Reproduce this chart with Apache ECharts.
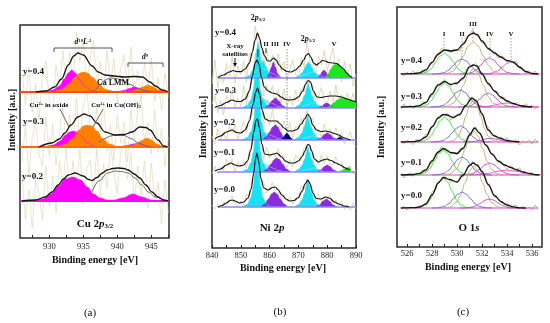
<!DOCTYPE html>
<html><head><meta charset="utf-8">
<style>html,body{margin:0;padding:0;background:#fff}#c{width:550px;height:323px}</style>
<script src="https://cdn.jsdelivr.net/npm/echarts@6/dist/echarts.min.js"></script>
</head><body><div id="c"></div>
<script>
// ---------------- DATA: panel (a) Cu 2p3/2 ----------------
const xsCu = [926,926.5,927,927.5,928,928.5,929,929.5,930,930.5,931,931.5,932,932.5,933,933.5,934,934.5,935,935.5,936,936.5,937,937.5,938,938.5,939,939.5,940,940.5,941,941.5,942,942.5,943,943.5,944,944.5,945,945.5,946,946.5,947,947.5];
const cuRaw04 = [18,-12,25,-20,8,-28,16,31,-8,-18,27,5,42,4,39,10,60,30,52,3,33,52,6,31,-3,42,6,34,-12,23,37,3,45,-3,21,-7,29,4,34,-9,14,-18,19,-5];
const cuRaw03 = [-15,22,-28,10,25,-8,-19,30,-9,23,-18,13,42,1,32,3,49,4,41,58,21,8,39,15,45,-4,23,-13,32,4,25,-15,37,7,37,50,5,24,-7,37,-5,18,-19,10];
const cuRaw02 = [25,-18,11,-27,21,7,-19,35,-5,25,-12,40,14,53,7,40,13,52,-3,33,41,9,52,5,37,13,57,28,8,48,63,22,48,-1,35,6,40,-7,38,-2,19,-23,21,-12];

const cuMagA04 = [[929.4,0],[930.5,2],[931.5,6],[932.2,13],[932.8,19],[933.3,22],[933.8,19],[934.5,12],[935.3,5],[936.2,1.5],[937.2,0]];
const cuOraA04 = [[930.5,0],[931.8,2.5],[932.9,8],[933.8,15],[934.5,19],[935,20],[935.6,19],[936.4,14.5],[937.3,7.5],[938.3,2.5],[939.5,0]];
const cuLmm04  = [[936.8,2],[937.4,7],[938.2,12],[939,14],[939.8,13.5],[940.8,11.5],[941.9,7.5],[942.9,4],[944,1.5],[945,0]];
const cuMagB04 = [[940,0],[941,1.5],[941.8,3.5],[942.5,5],[943.2,3.5],[944,1.5],[945,0]];
const cuOraB04 = [[941.8,0],[942.8,2],[943.7,5],[944.5,7],[945.3,5],[946.1,2],[947,0]];
const cuEnv04  = [[928,0],[929.5,1],[930.8,5],[931.8,13],[932.8,27],[933.6,36],[934.2,39],[935,37],[936.3,26],[937.2,20],[938.2,17],[939.5,16],[941,15],[942.5,15.5],[943.7,15],[944.8,10],[945.6,6],[946.6,2],[947.4,0.5]];

const cuMagA03 = [[929.4,0],[930.6,2],[931.6,6],[932.4,12],[933,15],[933.5,16],[934,15],[934.7,11],[935.5,5],[936.4,1.5],[937.3,0]];
const cuOraA03 = [[931.3,0],[932.5,3],[933.5,9],[934.4,17],[935,21],[935.6,22],[936.2,21],[937,16],[937.9,8],[938.8,3],[940,0]];
const cuLmm03  = [[937.2,4],[938,8],[939,11],[940,12],[941,11.5],[942,8.5],[943,4.5],[944,1.5],[945,0]];
const cuMagB03 = [[940.5,0],[941.5,1.5],[942.3,3],[943,3.5],[943.7,2.5],[944.5,0.5],[945.2,0]];
const cuOraB03 = [[941.8,0],[942.8,3],[943.6,6.5],[944.3,9],[945,7],[945.8,3],[946.7,0]];
const cuEnv03  = [[928.5,0],[930.4,4],[931.5,8],[932.3,14],[933.2,22],[934.2,30],[935.1,33],[936,31],[937,24],[938.2,15],[939.7,12],[941,12.5],[942.2,15],[943.3,20],[944.2,19.5],[944.8,17],[946,7],[946.8,1],[947.4,0]];

const cuMag02  = [[927.5,0],[929,2],[930.2,7],[931.3,15],[932.4,22],[933.5,24],[934.6,21],[935.6,14],[936.5,7],[937.5,3],[938.5,1],[939.5,0.8],[940.8,3],[942.3,7],[943.6,4],[945,1],[946,0]];
const cuLine02 = [[936.2,8],[937.3,20],[938.6,28],[939.7,30],[940.6,29.5],[941.6,28],[942.6,23],[943.6,16],[944.6,9],[945.6,4],[947,0]];
const cuEnv02  = [[926,0],[928,1],[929.4,4],[930.4,9],[931.3,16],[932.1,22],[932.8,26],[933.8,28],[935,25],[935.8,21.5],[936.3,20.5],[937,23.5],[937.8,28],[938.5,31],[939.3,32.5],[940.1,33],[941,32.5],[941.6,31],[942.5,27],[943.3,23],[944.2,16],[945.1,9],[946,4],[946.8,1],[947.5,0]];

const cuTicks  = [927.5,930,932.5,935,937.5,940,942.5,945,947.5];
const cuLabels = [930,935,940,945];

// ---------------- DATA: panel (b) Ni 2p ----------------
const xsNi = [840,841,842,843,844,845,846,847,848,849,850,851,852,853,854,855,856,857,858,859,860,861,862,863,864,865,866,867,868,869,870,871,872,873,874,875,876,877,878,879,880,881,882,883,884,885,886,887,888,889,890];
const niRaw04 = [-6,18,-9.5,4.5,-5,14.5,2,21.5,-5,12,3.3,17,-4,25,22,52,35,36,15,28,12.5,23,13,24,7,16,-2.5,9,18,4,0,20,11,37.5,17,19,0.5,22,13,27.5,7,19,30,7,19,-3.5,17,2,14,-8.5,4];
const niRaw03 = [4,12.5,-5,7.5,-7,12.5,5,18,0,10,1.5,22,3,20,28,55,44,43,12,23,14.5,22,2.5,19,6,19.5,1,12,2,17.5,7,19,16,34,24,23,5,12,20.5,7,3.5,17,6,23,6.5,13,0,15,4,15,-1];
const niRaw02 = [4,-4,11.5,0,8,0,14.5,7,15,1,10,19,7,24,25,54,49,41,16,23,15,31,12,19,9,19,6.5,18,1,14,10,22,10,30.5,19,22,4,11,3.5,16,6,11,3,12,3,8,-4,3,8,-3,-7];
const niRaw01 = [-2,6,-2,5,1,13,5.5,13,0,10.3,5,10,4,22,30,55,45,31,13,25,14,19.5,14.5,23.5,14,16,4,12,5,17,13.5,11,24,25,29,10,12,7,17,8.5,16,7,8,15,6.5,10,0.5,4,6,-2,2];
const niRaw00 = [2,-2,3,0,5,1,7.5,11,4,0.5,6,2,13,12,29,44,53,31,24,14,19,24.5,16.5,19,7.5,12,6,10,3,9,8,21,18,28,21,18,7,13,4.5,11.5,9,11.5,1,7,1,6,-2,2.5,-3,4,-2];

const niHalo04  = [[852,0],[854,4],[856,8],[857.5,10],[859,8],[861,4.5],[863,1.5],[865,0]];
const niHaloB04 = [[870,0],[872.5,3.5],[875,6],[877,4],[879,0]];
const niMain04  = [[851.5,0],[853,2.5],[854.2,8],[855,17],[855.5,28],[856,35],[856.5,28],[857,17],[857.8,8],[859,2.5],[860.5,0]];
const niMainII04= [[854.5,0],[855.8,4],[856.8,11],[857.8,17],[858.8,11],[859.8,4],[861,0]];
const niP12_04  = [[869,0],[870.4,2.5],[871.5,6],[872.4,11],[873,14],[873.5,16],[874,14],[874.6,11],[875.5,6],[876.6,2.5],[878,0]];
const niIII04   = [[859,0],[859.8,4],[860.5,10],[861.3,16],[862,11],[862.8,4],[863.8,0]];
const niSat04   = [[876.8,0],[877.6,3],[878.3,6.5],[878.8,8],[879.4,6.5],[880.2,3],[881.2,0]];
const niV04     = [[879.3,0],[880.3,4],[881.3,9],[882.3,13],[883.2,14],[884.2,12.5],[885.4,9.5],[886.6,6],[887.6,3],[888.4,0.5]];
const niEnv04   = [[842,0.5],[844,3],[846,6],[847.3,7.5],[848.5,6.5],[850,6.3],[851.5,9],[853,15],[854,26],[855,38],[855.8,45],[856.5,40],[857.3,30],[858.3,22],[859.3,17],[860.3,17],[861.3,20],[862.3,18],[863.3,13],[864.5,9],[866,6.5],[867.5,6],[869,8],[870.5,12],[871.8,18],[872.8,23],[873.5,24.5],[874.3,21],[875.3,15],[876.3,13],[877.3,15],[878.3,17.5],[879.3,17],[880.5,15.5],[882,15],[883.3,14.5],[884.5,12],[885.7,9],[886.8,5],[887.8,2],[888.6,0.5]];

const niHalo03  = [[852,0],[854,4],[856,8],[857.5,10],[859,8],[861,4.5],[863,1.5],[865,0]];
const niHaloB03 = [[871,0],[873,3],[875,5],[877,3],[879,0]];
const niMain03  = [[850.5,0],[852.2,2.5],[853.5,8],[854.4,18],[855,32],[855.6,46],[856.2,32],[856.8,18],[857.7,8],[859,2.5],[860.7,0]];
const niP12_03  = [[868.7,0],[870.1,2.5],[871.2,6.5],[872.2,13],[872.9,20],[873.4,25],[873.9,20],[874.6,13],[875.6,6.5],[876.7,2.5],[878,0]];
const niIII03   = [[858.3,0],[859.6,2.5],[860.8,7],[862,10],[863.2,7],[864.4,2.5],[865.7,0]];
const niSat03   = [[877,0],[878.2,2],[879.2,4.3],[879.8,5],[880.6,4],[881.6,1.5],[882.7,0]];
const niV03     = [[879.8,0],[881,2],[882.2,5],[883.5,8],[885,10],[886.5,9.5],[888,8],[889.2,7],[890,6]];
const niEnv03   = [[841,0.5],[843,2.5],[845,5.5],[847,8],[848.5,6.5],[850,6.5],[851.5,9],[853,17],[854,32],[855,45],[855.6,48],[856.3,44],[857.2,30],[858.2,21],[859.5,17],[861,15],[862.5,14],[864,11],[865.5,8.5],[867,8],[868.5,8.5],[870,11],[871.5,17],[872.5,24],[873.4,27.5],[874.2,26],[875.2,17],[876.5,11],[878,10.5],[879.5,11.5],[881,12],[883,12],[885,11],[887,9],[889,7],[890,6]];

const niHalo02  = [[852,0],[854,3],[856,7],[857.5,8.5],[859,7],[861,4],[863,1.5],[865,0]];
const niHaloB02 = [[871,0],[873,2.5],[875,4],[877,2.5],[879,0]];
const niMain02  = [[850.7,0],[852.3,2.5],[853.6,8.5],[854.5,19],[855.1,36],[855.8,50],[856.5,36],[857.1,19],[858,8.5],[859.3,2.5],[861,0]];
const niP12_02  = [[868.6,0],[870,2.5],[871.1,6.5],[872.1,13],[872.7,19],[873.2,24],[873.7,19],[874.4,13],[875.4,6.5],[876.5,2.5],[877.8,0]];
const niIII02   = [[857.5,0],[858.8,3],[860,8],[861.1,13],[862,15],[862.9,13],[863.8,8],[864.8,3],[866,0]];
const niIV02    = [[864,0],[864.8,2.5],[865.5,5.5],[866,7],[866.5,5.5],[867.2,2.5],[868,0]];
const niSat02   = [[876.5,0],[877.8,2],[879,5.5],[880,7],[881,5.5],[882.2,2],[883.5,0]];
const niV02     = [[882.8,0],[883.6,1.5],[884.4,3],[885.2,1.5],[886,0]];
const niEnv02   = [[841,1],[843,4],[845,8],[847,10],[848.5,7.5],[850,7],[851.5,10],[853,19],[854.2,35],[855.2,48],[855.8,52],[856.5,46],[857.4,30],[858.5,21],[860,19],[861.5,19],[862.5,19],[863.5,16.5],[865,12],[866.5,9],[868,9],[869.5,10.5],[871,16],[872.3,21.5],[873.2,26],[874,23],[875,15],[876.3,10],[877.8,8.5],[879.5,9],[881,8],[882.5,6.5],[884,5],[885.5,2.5],[887,1],[888,0]];

const niHalo01  = [[852,0],[854,3],[856,7.5],[857.5,9],[859,7.5],[861,4],[863,1.5],[865,0]];
const niHaloB01 = [[871,0],[873,2.5],[875,4],[877,2.5],[879,0]];
const niMain01  = [[850.5,0],[852.2,2.5],[853.5,9],[854.4,20],[855,37],[855.6,52],[856.2,37],[856.8,20],[857.7,9],[859,2.5],[860.7,0]];
const niP12_01  = [[868.7,0],[870.1,2.5],[871.2,6.5],[872.2,13],[872.8,20],[873.3,25],[873.8,20],[874.5,13],[875.5,6.5],[876.6,2.5],[877.9,0]];
const niIII01   = [[857.8,0],[859.2,3],[860.5,8],[861.6,12.5],[862.5,14],[863.4,12.5],[864.5,8],[865.8,3],[867.2,0]];
const niSat01   = [[876.5,0],[877.8,2],[879,5.5],[880,7],[881,5.5],[882.2,2],[883.5,0]];
const niV01     = [[884,0],[885.2,1.5],[886.3,3.5],[887.3,4.5],[888,4.2],[888.02,0]];
const niEnv01   = [[841,1],[843,3],[845,7],[846.5,9],[848,7],[849.5,6],[851,7],[852.3,11],[853.5,22],[854.5,40],[855.3,52],[855.8,53],[856.5,44],[857.3,28],[858.3,18],[860,17],[861.5,18],[862.5,19],[864,15.5],[865.5,11],[867,9],[868.5,9],[870,11],[871.3,15.5],[872.3,21],[873.2,27.5],[873.8,27],[874.6,21],[875.6,13],[877,10],[878.5,12],[879.8,13],[881.3,11.5],[883,9],[884.5,7],[886,4.5],[887,3],[888,2]];

const niMain00  = [[850.5,0],[852.2,2.5],[853.5,9],[854.4,21],[855,38],[855.6,54],[856.2,38],[856.8,21],[857.7,9],[859,2.5],[860.7,0]];
const niP12_00  = [[868.7,0],[870.1,2.5],[871.2,7],[872.2,14],[872.8,22],[873.3,27],[873.8,22],[874.5,14],[875.5,7],[876.6,2.5],[877.9,0]];
const niIII00   = [[857,0],[858.3,3],[859.6,8],[860.7,13],[861.6,15],[862.6,13],[863.7,8],[865,3],[866.3,0]];
const niSat00   = [[876,0],[877.3,2],[878.6,6],[879.7,8],[880.8,6],[882,2],[883.3,0]];
const niEnv00   = [[842,0],[843.5,1.5],[845,4],[846.3,6.5],[847,7],[848,6],[849.5,4],[851,5],[852.5,9],[853.6,18],[854.5,34],[855.1,48],[855.6,54],[856.2,46],[857,28],[858,19],[859.5,17],[861,19.5],[862,20],[863,17],[864.3,12],[865.7,8],[867,6],[868.5,6.5],[870,9.5],[871.3,16],[872.3,23],[873.3,27],[874.1,23],[875,14],[876.2,8.5],[877.8,8],[879.6,10],[881,8.5],[882.5,5],[884,3],[886,1],[887.5,0]];

const niTicks  = [840,845,850,855,860,865,870,875,880,885,890];
const niLabels = [840,850,860,870,880,890];

// ---------------- DATA: panel (c) O 1s ----------------
const xsO = [525.5,525.75,526,526.25,526.5,526.75,527,527.25,527.5,527.75,528,528.25,528.5,528.75,529,529.25,529.5,529.75,530,530.25,530.5,530.75,531,531.25,531.5,531.75,532,532.25,532.5,532.75,533,533.25,533.5,533.75,534,534.25,534.5,534.75,535,535.25,535.5,535.75,536,536.25,536.5];
const oRaw04 = [1,-2,2,-1,3.3,-1.4,1.2,4,1,8,10.5,18,18,26,23,25,21,25,24,23,32,34,40,44,38.5,38,31,31,24.5,23,23,16,18,17,11.5,14,11,13,5,5.5,0.5,3.2,-0.5,3,-2];
const oRaw03 = [-2,3,-1,2,-1.7,1.7,-0.7,5.2,3.5,9,11,20,23,22,27.5,24,21.5,24.5,22,27,27,38,41,41,43.5,35,33,30,21.5,20.5,15,15.5,8,10,5,5.5,0.5,4.5,1.5,-1,3.5,-0.8,2,-2,1];
const oRaw02 = [1,-2,2,0,-2.6,2.8,0.5,3.5,8,7.5,16,18,26,26,27.5,28.5,22,25.5,27.5,26,33,36.5,45,42,43,33,30,18,15,6.5,7,2.5,5.5,1.5,4.5,-1,0.7,2.3,-3,1,-1,2,-2,3,-1];
const oRaw01 = [2,-3,1,2.2,-1.5,1.9,0.6,5.6,3,10,12,21,22,29,24.5,26,20.5,23,20.5,26.5,25,33,42,43,48,42,39,29.5,29,20.5,19,12.5,14,10,5.5,9.5,5,6,7,1,3.2,-0.5,2.8,-0.7,0];
const oRaw00 = [-1,2,-2,1,0.3,-1.4,3,1,5,6,16,18,27,27,31.5,29.5,25.5,28,25,32,31,39,41.5,47,42,42,33.5,32,22.5,18.5,10.5,11,6.5,3.5,5,-1,2.2,2.6,-1,2,-2,1,-2,3,-1];

const oI04   = [[526.6,0],[527.1,0.3],[527.6,2],[527.95,5.5],[528.3,12],[528.65,18],[529,21],[529.35,18],[529.7,12],[530.05,5.5],[530.4,2],[530.9,0.3],[531.4,0]];
const oII04  = [[528,0],[528.5,0.2],[529,1.5],[529.35,4],[529.7,8.5],[530.05,13],[530.4,15],[530.75,13],[531.1,8.5],[531.45,4],[531.8,1.5],[532.3,0.2],[532.8,0]];
const oIII04 = [[528.6,0],[529.2,0.6],[529.7,3],[530.1,9],[530.5,18],[530.9,28],[531.3,32],[531.7,28],[532.1,18],[532.5,9],[532.9,3],[533.4,0.6],[534,0]];
const oIV04  = [[530.2,0],[530.7,0.2],[531.2,1.6],[531.55,4.3],[531.9,9],[532.25,14],[532.6,16],[532.95,14],[533.3,9],[533.65,4.3],[534,1.6],[534.5,0.2],[535,0]];
const oV04   = [[531.9,0],[532.4,0.2],[532.9,1.2],[533.25,3.2],[533.6,6.7],[533.95,10.4],[534.3,12],[534.65,10.4],[535,6.7],[535.35,3.2],[535.7,1.2],[536.2,0.2],[536.7,0]];
const oEnv04 = [[525.5,0],[526.5,0.3],[527,1.2],[527.5,4],[528,11.5],[528.5,20],[529,24],[529.5,23],[530,24],[530.5,30],[531,39],[531.3,41],[531.6,39.5],[532,33],[532.5,25.5],[533,21],[533.5,17],[534,13.5],[534.5,12],[535,7],[535.5,2.5],[536,0.5],[536.5,0]];

const oI03   = [[526.6,0],[527.1,0.3],[527.6,2.4],[527.95,6.5],[528.3,13.5],[528.65,21],[529,24],[529.35,21],[529.7,13.5],[530.05,6.5],[530.4,2.4],[530.9,0.3],[531.4,0]];
const oII03  = [[527.9,0],[528.4,0.2],[528.9,1.7],[529.25,4.6],[529.6,9.5],[529.95,14.7],[530.3,17],[530.65,14.7],[531,9.5],[531.35,4.6],[531.7,1.7],[532.2,0.2],[532.7,0]];
const oIII03 = [[528.6,0],[529.2,0.8],[529.7,3.8],[530.1,10.6],[530.5,21.7],[530.9,33],[531.3,38],[531.7,33],[532.1,21.7],[532.5,10.6],[532.9,3.8],[533.4,0.8],[534,0]];
const oIV03  = [[530.1,0],[530.6,0.2],[531.1,1.4],[531.45,3.8],[531.8,7.8],[532.15,12],[532.5,14],[532.85,12],[533.2,7.8],[533.55,3.8],[533.9,1.4],[534.4,0.2],[534.9,0]];
const oV03   = [[531.4,0],[532.2,0.3],[532.8,1.3],[533.4,3],[534,4],[534.6,3],[535.2,1.3],[535.8,0.3],[536.6,0]];
const oEnv03 = [[525.5,0],[526.5,0.3],[527,1.3],[527.5,4.5],[528,13],[528.5,22],[529,25.5],[529.5,22.5],[530,24],[530.5,29],[531,40],[531.3,42],[531.6,41],[532,33],[532.5,23.5],[533,16],[533.5,10],[534,6],[534.5,3.5],[535,1.5],[535.5,0.5],[536,0]];

const oI02   = [[526.6,0],[527.1,0.3],[527.6,2.5],[527.95,6.8],[528.3,14],[528.65,21.6],[529,25],[529.35,21.6],[529.7,14],[530.05,6.8],[530.4,2.5],[530.9,0.3],[531.4,0]];
const oII02  = [[527.9,0],[528.4,0.2],[528.9,1.6],[529.25,4.3],[529.6,9],[529.95,13.8],[530.3,16],[530.65,13.8],[531,9],[531.35,4.3],[531.7,1.6],[532.2,0.2],[532.7,0]];
const oIII02 = [[529.2,0],[529.7,1.3],[530.1,5.7],[530.4,13.4],[530.7,25.6],[531,37],[531.3,42],[531.6,37],[531.9,25.6],[532.2,13.4],[532.5,5.7],[532.9,1.3],[533.4,0]];
const oIV02  = [[530.5,0],[531.3,0.3],[531.9,1.6],[532.3,3],[532.7,4],[533.1,3],[533.5,1.6],[534.1,0.3],[534.9,0]];
const oEnv02 = [[525.5,0],[526.5,0.4],[527,1.5],[527.5,5],[528,15],[528.5,24],[528.9,27.5],[529.2,27],[529.7,24.5],[530.2,27.5],[530.7,36.5],[531.2,44],[531.55,41],[532,28],[532.5,12],[533,6],[533.5,3.5],[534,1.5],[534.5,0.7],[535,0]];

const oI01   = [[526.5,0],[527,0.3],[527.5,2.5],[527.85,6.8],[528.2,14],[528.55,21.6],[528.9,25],[529.25,21.6],[529.6,14],[529.95,6.8],[530.3,2.5],[530.8,0.3],[531.3,0]];
const oII01  = [[528,0],[528.5,0.3],[529,1.8],[529.35,4.9],[529.7,10],[530.05,15.6],[530.4,18],[530.75,15.6],[531.1,10],[531.45,4.9],[531.8,1.8],[532.3,0.3],[532.8,0]];
const oIII01 = [[528.95,0],[529.45,1.1],[529.95,5.9],[530.3,14],[530.65,26.4],[531,38.7],[531.35,44],[531.7,38.7],[532.05,26.4],[532.4,14],[532.75,5.9],[533.25,1.1],[533.75,0]];
const oIV01  = [[530.2,0],[530.7,0.2],[531.2,1.2],[531.55,3.2],[531.9,6.7],[532.25,10.4],[532.6,12],[532.95,10.4],[533.3,6.7],[533.65,3.2],[534,1.2],[534.5,0.2],[535,0]];
const oV01   = [[531,0],[531.8,0.4],[532.5,1.6],[533.2,3.6],[534,5],[534.8,3.6],[535.5,1.6],[536.2,0.4],[537,0]];
const oEnv01 = [[525.5,0],[526.5,0.5],[527,1.6],[527.5,5],[528,14],[528.5,23],[528.9,26.5],[529.5,22.5],[530,21.5],[530.5,27],[531,40],[531.4,47],[531.8,42],[532.3,30],[532.8,21],[533.3,14],[533.8,10],[534.3,7.5],[534.8,5],[535.3,3],[535.8,1.5],[536.3,0.3],[536.6,0]];

const oI00   = [[526.5,0],[527,0.4],[527.5,3],[527.85,8.1],[528.2,16.8],[528.55,26],[528.9,30],[529.25,26],[529.6,16.8],[529.95,8.1],[530.3,3],[530.8,0.4],[531.3,0]];
const oII00  = [[528,0],[528.5,0.2],[529,1.6],[529.35,4.3],[529.7,9],[530.05,13.8],[530.4,16],[530.75,13.8],[531.1,9],[531.45,4.3],[531.8,1.6],[532.3,0.2],[532.8,0]];
const oIII00 = [[528.95,0],[529.45,1],[529.95,5.7],[530.3,13.4],[530.65,25.2],[531,37],[531.35,42],[531.7,37],[532.05,25.2],[532.4,13.4],[532.75,5.7],[533.25,1],[533.75,0]];
const oIV00  = [[530.2,0],[530.7,0.1],[531.2,0.9],[531.55,2.4],[531.9,5],[532.25,7.8],[532.6,9],[532.95,7.8],[533.3,5],[533.65,2.4],[534,0.9],[534.5,0.1],[535,0]];
const oEnv00 = [[525.5,0],[526.5,0.3],[527,1],[527.5,4],[528,13],[528.5,25],[528.9,30.5],[529.4,28.5],[530,26],[530.5,33],[531,42.5],[531.3,45],[531.6,43],[532,36.5],[532.5,23.5],[533,12.5],[533.5,6.5],[534,3],[534.5,1.2],[535,0.2],[535.5,0]];

const oTicks  = [526,527,528,529,530,531,532,533,534,535,536];
const oLabels = [526,528,530,532,534,536];

// ---------------- BUILD ----------------
const SERIF = 'Liberation Serif';
const H = 323;
const MAG='#ff00ff', ORA='#ff8000', CYAN='#18e2f2', PUR='#8a2be2', NAVY='#000080', GRN='#1ee61e', HALO='#a9dcf2';
const grid=[], xAxis=[], yAxis=[], series=[], graphic=[];

function frame(box, min, max, ticks, labels, margin){
  const i=grid.length;
  grid.push(Object.assign({show:true, borderColor:'#2b2b2b', borderWidth:1.5, backgroundColor:'#fff', containLabel:false, outerBoundsMode:'none'}, box));
  xAxis.push({type:'value', gridIndex:i, min, max, axisLine:{show:false}, splitLine:{show:false},
    axisTick:{show:true, inside:true, length:3, customValues:ticks, lineStyle:{color:'#222', width:1}},
    axisLabel:{customValues:labels, margin, fontFamily:SERIF, fontSize:8.5, color:'#222'}});
  yAxis.push({type:'value', gridIndex:i, show:false, min:0, max:1, splitLine:{show:false}});
}
function layer(box, min, max, basePx){
  const i=grid.length;
  const frameBottomPx = H - box.bottom;
  grid.push(Object.assign({show:false, containLabel:false, outerBoundsMode:'none'}, box));
  xAxis.push({type:'value', gridIndex:i, min, max, show:false, splitLine:{show:false}});
  yAxis.push({type:'value', gridIndex:i, show:false, min:-(frameBottomPx-basePx), max:basePx-box.top, splitLine:{show:false}});
  return i;
}
function line(gi, data, color, width, z, smooth, opacity){
  series.push({type:'line', xAxisIndex:gi, yAxisIndex:gi, data, symbol:'none', silent:true, animation:false,
    smooth: smooth===undefined?0.35:smooth, smoothMonotone:'x',
    lineStyle:{color, width, opacity: opacity===undefined?1:opacity}, z});
}
function fill(gi, data, color, z){
  series.push({type:'line', xAxisIndex:gi, yAxisIndex:gi, data, symbol:'none', silent:true, animation:false,
    smooth:0.35, smoothMonotone:'x', lineStyle:{color, width:0.6}, areaStyle:{color, opacity:1}, z});
}
function pairs(xs, ys){ return xs.map((x,i)=>[x, ys[i]]); }

// panel a
const boxA = {left:20, right:381, top:25, bottom:85};
const minA=925.7, maxA=947.6;
frame(boxA, minA, maxA, cuTicks, cuLabels, 4);
const cuSpectra = [
  {base:92,  raw:cuRaw04, fills:[[cuMagA04,MAG],[cuOraA04,ORA],[cuMagB04,MAG],[cuOraB04,ORA]], lines:[cuLmm04], env:cuEnv04, baseCol:'#ff4a10'},
  {base:147, raw:cuRaw03, fills:[[cuMagA03,MAG],[cuOraA03,ORA],[cuMagB03,MAG],[cuOraB03,ORA]], lines:[cuLmm03], env:cuEnv03, baseCol:'#ff6a10'},
  {base:201, raw:cuRaw02, fills:[[cuMag02,MAG]], lines:[cuLine02], env:cuEnv02, baseCol:MAG}
];
cuSpectra.forEach(s=>{
  const gi = layer(boxA, minA, maxA, s.base);
  line(gi, pairs(xsCu, s.raw), '#d8d3a9', 0.7, 2, false, 0.8);
  s.fills.forEach(f=>fill(gi, f[0], f[1], 3));
  line(gi, [[minA,0],[maxA,0]], s.baseCol, 1.8, 4, false);
  s.lines.forEach(l=>line(gi, l, '#6b6b6b', 1, 5));
  line(gi, s.env, '#151515', 1.3, 6);
});

// panel b
const boxB = {left:212, right:194, top:7, bottom:75};
const minB=840, maxB=890;
frame(boxB, minB, maxB, niTicks, niLabels, 3);
const niSpectra = [
  {base:78,  raw:niRaw04, fills:[[niHalo04,HALO],[niHaloB04,HALO],[niMainII04,CYAN],[niMain04,CYAN],[niP12_04,CYAN],[niIII04,PUR],[niSat04,PUR],[niV04,GRN]], env:niEnv04},
  {base:108, raw:niRaw03, fills:[[niHalo03,HALO],[niHaloB03,HALO],[niMain03,CYAN],[niP12_03,CYAN],[niIII03,PUR],[niSat03,PUR],[niV03,GRN]], env:niEnv03},
  {base:140, raw:niRaw02, fills:[[niHalo02,HALO],[niHaloB02,HALO],[niMain02,CYAN],[niP12_02,CYAN],[niIII02,PUR],[niIV02,NAVY],[niSat02,PUR],[niV02,NAVY]], env:niEnv02},
  {base:172, raw:niRaw01, fills:[[niHalo01,HALO],[niHaloB01,HALO],[niMain01,CYAN],[niP12_01,CYAN],[niIII01,PUR],[niSat01,PUR],[niV01,GRN]], env:niEnv01},
  {base:207, raw:niRaw00, fills:[[niMain00,CYAN],[niP12_00,CYAN],[niIII00,PUR],[niSat00,PUR]], env:niEnv00}
];
niSpectra.forEach(s=>{
  const gi = layer(boxB, minB, maxB, s.base);
  line(gi, pairs(xsNi, s.raw), '#d2cb9e', 0.8, 2, false, 0.9);
  s.fills.forEach(f=>fill(gi, f[0], f[1], 3));
  line(gi, [[842,0],[890,0]], '#8f86f0', 1.4, 4, false);
  line(gi, s.env, '#151515', 1.2, 6);
});

// panel c
const boxC = {left:397, right:8, top:7, bottom:76};
const minC=525.2, maxC=536.8;
frame(boxC, minC, maxC, oTicks, oLabels, 2);
const CI='#2ee82e', CII='#6464d2', CIII='#b7ae6c', CIV='#c043c8', CV='#ff3fd2';
const oSpectra = [
  {base:74,  raw:oRaw04, comps:[[oIII04,CIII],[oI04,CI],[oII04,CII],[oIV04,CIV],[oV04,CV]], env:oEnv04},
  {base:107, raw:oRaw03, comps:[[oIII03,CIII],[oI03,CI],[oII03,CII],[oIV03,CIV],[oV03,CV]], env:oEnv03},
  {base:142, raw:oRaw02, comps:[[oIII02,CIII],[oI02,CI],[oII02,CII],[oIV02,CIV]], env:oEnv02},
  {base:175, raw:oRaw01, comps:[[oIII01,CIII],[oI01,CI],[oII01,CII],[oIV01,CIV],[oV01,CV]], env:oEnv01},
  {base:208, raw:oRaw00, comps:[[oIII00,CIII],[oI00,CI],[oII00,CII],[oIV00,CIV]], env:oEnv00}
];
oSpectra.forEach(s=>{
  const gi = layer(boxC, minC, maxC, s.base);
  line(gi, pairs(xsO, s.raw), '#bdb67c', 0.9, 2, false, 0.95);
  line(gi, [[525.6,0],[536.5,0]], '#d845c8', 1.2, 3, false);
  s.comps.forEach(c=>line(gi, c[0], c[1], 0.9, 4));
  line(gi, s.env, '#151515', 1.3, 6);
});

// ---------------- TEXT / ANNOTATIONS ----------------
function txt(x, y, text, o){
  graphic.push({type:'text', x, y, silent:true, z:100, rotation:(o&&o.rot)||0,
    style:Object.assign({text, fontFamily:SERIF, fontWeight:'bold', fontSize:9, fill:'#111', align:'left', verticalAlign:'middle'}, o&&o.style||{})});
}
function poly(points, stroke, width, dash){
  graphic.push({type:'polyline', silent:true, z:99, shape:{points}, style:{stroke, lineWidth:width||1, fill:null, lineDash:dash||null}});
}
const supRich = (fs)=>({n:{fontSize:fs, fontWeight:'bold', fontFamily:SERIF}, i:{fontSize:fs, fontStyle:'italic', fontWeight:'bold', fontFamily:SERIF},
  u:{fontSize:fs*0.62, fontWeight:'bold', fontFamily:SERIF, verticalAlign:'top'}, ui:{fontSize:fs*0.62, fontStyle:'italic', fontWeight:'bold', fontFamily:SERIF, verticalAlign:'top'},
  s:{fontSize:fs*0.62, fontWeight:'bold', fontFamily:SERIF, verticalAlign:'bottom'}});

// panel a
txt(23, 72, 'y=0.4'); txt(23, 122, 'y=0.3'); txt(22, 177, 'y=0.2');
txt(113, 83, 'Ca LMM', {style:{align:'center', fontSize:8}});
txt(83, 42, '{i|d}{ui|10}{i|L}{ui|-1}', {style:{align:'center', rich:supRich(7.5)}});
poly([[54,52],[54,48],[112,48],[112,52]], '#555', 1);
txt(145, 57, '{i|d}{ui|9}', {style:{align:'center', rich:supRich(7.5)}});
poly([[128,67],[128,63],[163,63],[163,67]], '#555', 1);
txt(49, 105, '{n|Cu}{u|2+}{n| in oxide}', {style:{align:'center', rich:supRich(7)}});
poly([[60,109],[69,127]], '#444', 0.8);
txt(116, 105, '{n|Cu}{u|2+}{n| in Cu(OH)}{s|2}', {style:{align:'center', rich:supRich(7)}});
poly([[103,109],[93,127]], '#444', 0.8);
txt(95, 224, '{n|Cu 2}{i|p}{s|3/2}', {style:{align:'center', rich:supRich(11)}});
txt(95, 260, 'Binding energy [eV]', {style:{align:'center', fontSize:10}});
txt(12, 120, 'Intensity [a.u.]', {rot:Math.PI/2, style:{align:'center', fontSize:10}});
txt(90, 313, '(a)', {style:{align:'center', fontSize:11, fontWeight:'normal'}});

// panel b
txt(258, 18, '{n|2}{i|p}{s|3/2}', {style:{align:'center', rich:supRich(8)}});
txt(215, 33, 'y=0.4'); txt(215, 91, 'y=0.3'); txt(214, 123, 'y=0.2'); txt(214, 153, 'y=0.1'); txt(214, 190, 'y=0.0');
txt(235, 46, 'X-ray', {style:{align:'center', fontSize:7}});
txt(235, 54, 'satellites', {style:{align:'center', fontSize:7}});
poly([[235,58],[235,64]], '#111', 1);
graphic.push({type:'polygon', silent:true, z:99, shape:{points:[[233,63],[237,63],[235,67]]}, style:{fill:'#111'}});
txt(266, 44, 'II', {style:{align:'center', fontSize:7}});
txt(275, 44, 'III', {style:{align:'center', fontSize:7}});
txt(287, 44, 'IV', {style:{align:'center', fontSize:7}});
txt(308, 39, '{n|2}{i|p}{s|1/2}', {style:{align:'center', rich:supRich(8)}});
txt(334, 44, 'V', {style:{align:'center', fontSize:7}});
poly([[258,49],[258,57]], '#333', 1);
poly([[266,48],[266,53]], '#333', 1);
poly([[287,49],[287,133]], '#777', 0.8, [1.5,1.5]);
txt(272, 228, '{n|Ni 2}{i|p}', {style:{align:'center', rich:supRich(11)}});
txt(283, 268, 'Binding energy [eV]', {style:{align:'center', fontSize:10}});
txt(203, 127, 'Intensity [a.u.]', {rot:Math.PI/2, style:{align:'center', fontSize:10}});
txt(280, 312, '(b)', {style:{align:'center', fontSize:11, fontWeight:'normal'}});

// panel c
txt(444, 34, 'I', {style:{align:'center', fontSize:7}});
txt(462, 34, 'II', {style:{align:'center', fontSize:7}});
txt(473, 24, 'III', {style:{align:'center', fontSize:7}});
txt(490, 34, 'IV', {style:{align:'center', fontSize:7}});
txt(511, 34, 'V', {style:{align:'center', fontSize:7}});
poly([[444,38],[444,50]], '#888', 0.8, [1.5,1.5]);
poly([[462,38],[462,58]], '#888', 0.8, [1.5,1.5]);
poly([[473,28],[473,41]], '#888', 0.8, [1.5,1.5]);
poly([[490,38],[490,57]], '#888', 0.8, [1.5,1.5]);
poly([[511,38],[511,61]], '#888', 0.8, [1.5,1.5]);
txt(401, 61, 'y=0.4'); txt(401, 97, 'y=0.3'); txt(401, 128, 'y=0.2'); txt(401, 163, 'y=0.1'); txt(401, 196, 'y=0.0');
txt(469, 228, '{n|O 1}{i|s}', {style:{align:'center', rich:supRich(11)}});
txt(468, 267, 'Binding energy [eV]', {style:{align:'center', fontSize:10}});
txt(381, 127, 'Intensity [a.u.]', {rot:Math.PI/2, style:{align:'center', fontSize:10}});
txt(463, 312, '(c)', {style:{align:'center', fontSize:11, fontWeight:'normal'}});

const chart = echarts.init(document.getElementById('c'), null, {renderer:'canvas'});
chart.setOption({animation:false, backgroundColor:'#fff', grid, xAxis, yAxis, series, graphic});
</script></body></html>
